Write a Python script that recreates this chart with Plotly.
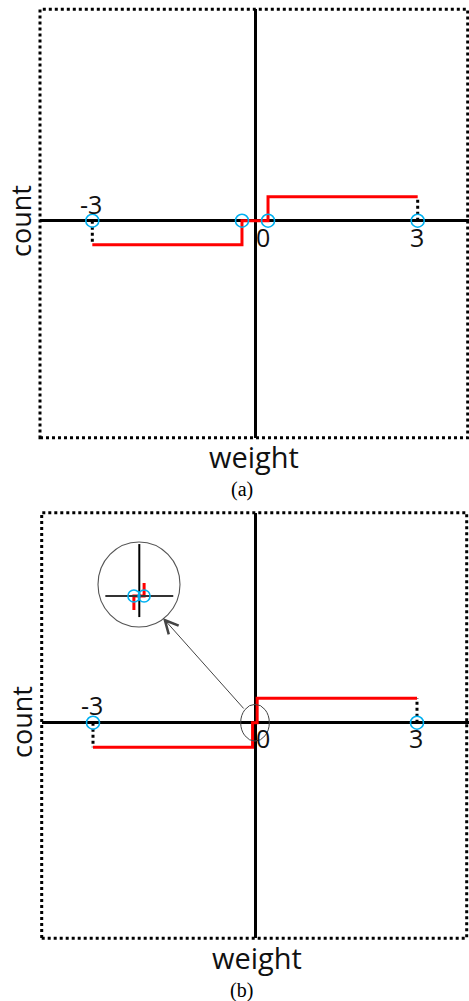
import plotly.graph_objects as go

W, H = 469, 1001

# --- data -------------------------------------------------------------
# panel (a): quantised weights and the step of the count curve
weights_a = [-3, -0.24, 0.24, 3]
counts_a = [-1, 0, 1, 1]
marks_a = [-3, -0.24, 0.24, 3]

# panel (b): the middle bin shrinks towards 0
weights_b = [-3, -0.045, 0.04, 3]
counts_b = [-1, 0, 1, 1]
marks_b = [-3, 3]

# dotted drop lines at the outer weights
guide_left_x, guide_left_y = [-3, -3], [0, -1]
guide_right_x, guide_right_y = [3, 3], [0, 1]

# zoomed inset of panel (b)
inset_cross_h_x, inset_cross_h_y = [-0.283, 0.283], [0, 0]
inset_cross_v_x, inset_cross_v_y = [0, 0], [-0.86, 2.12]
inset_step_x = [-0.045, -0.045, 0.04, 0.04]
inset_step_y = [-0.57, 0, 0, 0.53]
inset_marks = [-0.045, 0.04]

tick_vals = [-3, 0, 3]
tick_text = ["-3", "0", "3"]

RED = "#ff0000"
CYAN = "#00b0f0"
GREY = "#444444"
SANS = "Open Sans"


def px(x):
    return x / W


def py(y):
    return 1 - y / H


def axes(left, top, right, bottom, ox, oy, sx, sy, zero=True):
    xa = dict(domain=[px(left), px(right)], range=[(left - ox) / sx, (right - ox) / sx],
              showgrid=False, showticklabels=False, ticks="", showline=False,
              zeroline=zero, zerolinecolor="black", zerolinewidth=3, fixedrange=True)
    ya = dict(domain=[py(bottom), py(top)], range=[(oy - bottom) / sy, (oy - top) / sy],
              showgrid=False, showticklabels=False, ticks="", showline=False,
              zeroline=zero, zerolinecolor="black", zerolinewidth=3, fixedrange=True)
    return xa, ya


fig = go.Figure()


def panel(xa, ya, wx, cy, marks):
    fig.add_trace(go.Scatter(x=guide_left_x, y=guide_left_y, xaxis=xa, yaxis=ya, mode="lines",
                             line=dict(color="black", width=3, dash="dot")))
    fig.add_trace(go.Scatter(x=guide_right_x, y=guide_right_y, xaxis=xa, yaxis=ya, mode="lines",
                             line=dict(color="black", width=3, dash="dot")))
    fig.add_trace(go.Scatter(x=wx, y=cy, xaxis=xa, yaxis=ya, mode="lines", line_shape="hv",
                             line=dict(color=RED, width=3)))
    fig.add_trace(go.Scatter(x=marks, y=[0] * len(marks), xaxis=xa, yaxis=ya, mode="markers",
                             marker=dict(symbol="circle-open", size=13, color=CYAN,
                                         line=dict(width=1.6))))


panel("x", "y", weights_a, counts_a, marks_a)
panel("x2", "y2", weights_b, counts_b, marks_b)

# inset
fig.add_trace(go.Scatter(x=inset_step_x, y=inset_step_y, xaxis="x3", yaxis="y3", mode="lines",
                         line=dict(color=RED, width=3)))
fig.add_trace(go.Scatter(x=inset_cross_h_x, y=inset_cross_h_y, xaxis="x3", yaxis="y3",
                         mode="lines", line=dict(color="#333333", width=2)))
fig.add_trace(go.Scatter(x=inset_cross_v_x, y=inset_cross_v_y, xaxis="x3", yaxis="y3",
                         mode="lines", line=dict(color="black", width=2)))
fig.add_trace(go.Scatter(x=inset_marks, y=[0] * len(inset_marks), xaxis="x3", yaxis="y3",
                         mode="markers",
                         marker=dict(symbol="circle-open", size=12, color=CYAN,
                                     line=dict(width=1.6))))

xa1, ya1 = axes(40, 9.3, 469, 437.7, 255, 220.7, 54.23, 24)
xa2, ya2 = axes(41.7, 512.7, 469, 938.3, 255, 722.7, 54.0, 24.5)
xa3, ya3 = axes(98, 542, 180, 627, 139.3, 596, 120, 24.5, zero=False)

shapes = [
    dict(type="rect", xref="paper", yref="paper", x0=px(40), x1=px(467.7), y0=py(437.7),
         y1=py(9.3), line=dict(color="black", width=3, dash="dot")),
    dict(type="rect", xref="paper", yref="paper", x0=px(41.7), x1=px(466.7), y0=py(938.3),
         y1=py(512.7), line=dict(color="black", width=3, dash="dot")),
    # small ellipse around the origin of panel (b)
    dict(type="circle", xref="x2", yref="y2", x0=-0.265, x1=0.265, y0=-0.75, y1=0.75,
         line=dict(color=GREY, width=1)),
    # inset frame
    dict(type="circle", xref="paper", yref="paper", x0=px(98), x1=px(180), y0=py(627),
         y1=py(542), line=dict(color="#555555", width=1.1)),
]

CENTER = dict(xanchor="center", yanchor="middle")
annotations = []
for xr, yr, up, down in [("x", "y", 17, -16), ("x2", "y2", 18, -15)]:
    for v, t in zip(tick_vals, tick_text):
        above = v < 0
        annotations.append(dict(
            x=v, y=0, xref=xr, yref=yr, text=t, showarrow=False,
            xshift=8 if v == 0 else -1, yshift=up if above else down,
            font=dict(family=SANS, size=25, color="#111111"), **CENTER,
        ))

for cy in [221, 722]:
    annotations.append(dict(x=px(21), y=py(cy), xref="paper", yref="paper", text="count",
                            textangle=-90, showarrow=False,
                            font=dict(family=SANS, size=27, color="#111111"), **CENTER))
for cx, cy in [(254, 456), (257, 957)]:
    annotations.append(dict(x=px(cx), y=py(cy), xref="paper", yref="paper", text="weight",
                            showarrow=False, font=dict(family=SANS, size=29, color="#111111"),
                            **CENTER))
for cy, t in [(489, "(a)"), (990, "(b)")]:
    annotations.append(dict(x=px(241.7), y=py(cy), xref="paper", yref="paper", text=t,
                            showarrow=False,
                            font=dict(family="Liberation Serif", size=20, color="black"),
                            **CENTER))

# arrow from the ellipse to the inset
annotations.append(dict(x=px(163), y=py(618), xref="paper", yref="paper", text="",
                        showarrow=True, ax=82, ay=92, arrowhead=5, arrowsize=2.6,
                        arrowwidth=1, arrowcolor=GREY, standoff=0))

fig.update_layout(
    width=W, height=H, autosize=False,
    margin=dict(l=0, r=0, t=0, b=0),
    paper_bgcolor="white", plot_bgcolor="rgba(0,0,0,0)",
    showlegend=False,
    xaxis=xa1, yaxis=ya1,
    xaxis2=dict(xa2, anchor="y2"), yaxis2=dict(ya2, anchor="x2"),
    xaxis3=dict(xa3, anchor="y3"), yaxis3=dict(ya3, anchor="x3"),
    shapes=shapes, annotations=annotations,
)

fig.write_html(
    "out.html",
    config={"displayModeBar": False},
    post_script="document.body.style.margin='0';document.body.style.overflow='hidden';",
)
